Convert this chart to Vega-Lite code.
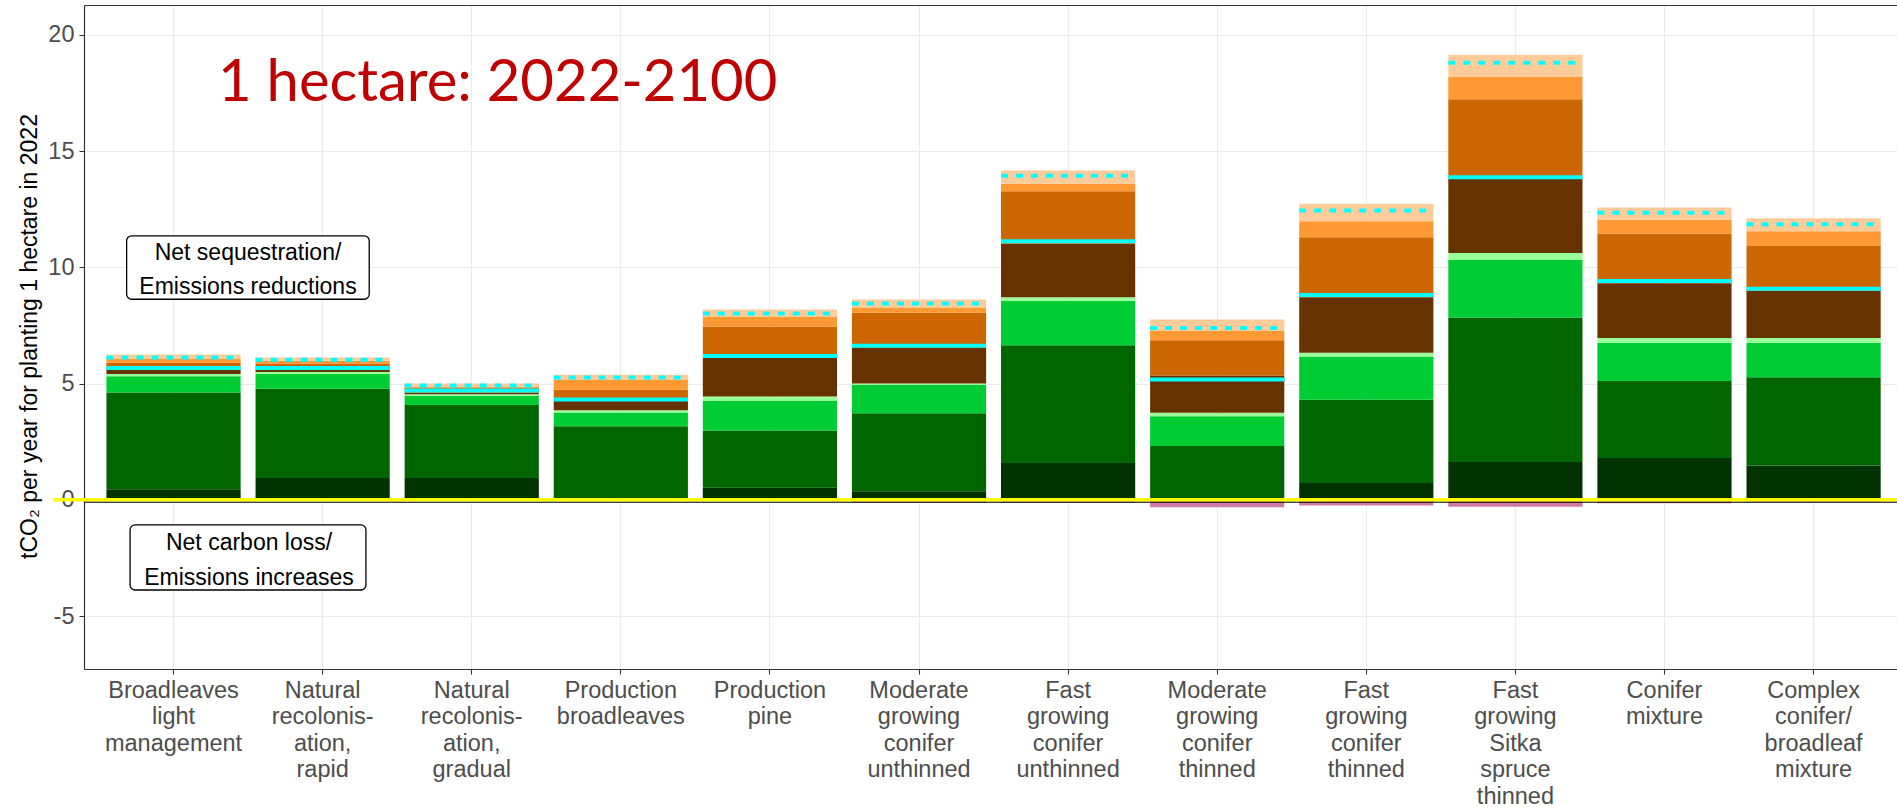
{
  "$schema": "https://vega.github.io/schema/vega-lite/v6.json",
  "width": 1813,
  "height": 664,
  "autosize": "none",
  "padding": {"left": 84, "top": 5, "right": 0, "bottom": 139},
  "background": "white",
  "config": {
    "view": {"stroke": null},
    "axis": {"labelFont": "Liberation Sans", "titleFont": "Liberation Sans"},
    "text": {"font": "Liberation Sans"}
  },
  "datasets": {
    "bars": [
      {"cat": "Broadleaves\nlight\nmanagement", "soil": 0.45, "trees": 4.17, "deadwood": 0.70, "litter": 0.09, "hwp": 0.17, "materialSub": 0.32, "fuelSub": 0.18, "other": 0.17, "emissions": 0, "netForest": 5.67, "netTotal": 6.12},
      {"cat": "Natural\nrecolonis-\nation,\nrapid", "soil": 0.94, "trees": 3.84, "deadwood": 0.63, "litter": 0.09, "hwp": 0.08, "materialSub": 0.28, "fuelSub": 0.12, "other": 0.14, "emissions": 0, "netForest": 5.67, "netTotal": 6.03},
      {"cat": "Natural\nrecolonis-\nation,\ngradual", "soil": 0.94, "trees": 3.14, "deadwood": 0.40, "litter": 0.06, "hwp": 0.08, "materialSub": 0.21, "fuelSub": 0.05, "other": 0.12, "emissions": 0, "netForest": 4.70, "netTotal": 4.92},
      {"cat": "Production\nbroadleaves", "soil": 0, "trees": 3.17, "deadwood": 0.59, "litter": 0.09, "hwp": 0.40, "materialSub": 0.49, "fuelSub": 0.44, "other": 0.20, "emissions": 0, "netForest": 4.32, "netTotal": 5.26},
      {"cat": "Production\npine", "soil": 0.52, "trees": 2.46, "deadwood": 1.27, "litter": 0.20, "hwp": 1.67, "materialSub": 1.34, "fuelSub": 0.43, "other": 0.30, "emissions": 0, "netForest": 6.19, "netTotal": 8.02},
      {"cat": "Moderate\ngrowing\nconifer\nunthinned", "soil": 0.37, "trees": 3.35, "deadwood": 1.23, "litter": 0.05, "hwp": 1.53, "materialSub": 1.52, "fuelSub": 0.22, "other": 0.35, "emissions": -0.12, "netForest": 6.63, "netTotal": 8.45},
      {"cat": "Fast\ngrowing\nconifer\nunthinned", "soil": 1.58, "trees": 5.07, "deadwood": 1.92, "litter": 0.15, "hwp": 2.30, "materialSub": 2.26, "fuelSub": 0.32, "other": 0.57, "emissions": -0.12, "netForest": 11.12, "netTotal": 13.94},
      {"cat": "Moderate\ngrowing\nconifer\nthinned", "soil": 0, "trees": 2.31, "deadwood": 1.29, "litter": 0.15, "hwp": 1.60, "materialSub": 1.51, "fuelSub": 0.43, "other": 0.47, "emissions": -0.32, "netForest": 5.18, "netTotal": 7.39},
      {"cat": "Fast\ngrowing\nconifer\nthinned", "soil": 0.72, "trees": 3.59, "deadwood": 1.86, "litter": 0.16, "hwp": 2.39, "materialSub": 2.58, "fuelSub": 0.69, "other": 0.75, "emissions": -0.25, "netForest": 8.81, "netTotal": 12.45},
      {"cat": "Fast\ngrowing\nSitka\nspruce\nthinned", "soil": 1.63, "trees": 6.21, "deadwood": 2.49, "litter": 0.29, "hwp": 3.18, "materialSub": 3.43, "fuelSub": 0.96, "other": 0.96, "emissions": -0.30, "netForest": 13.88, "netTotal": 18.80},
      {"cat": "Conifer\nmixture", "soil": 1.80, "trees": 3.31, "deadwood": 1.65, "litter": 0.20, "hwp": 2.36, "materialSub": 2.14, "fuelSub": 0.59, "other": 0.53, "emissions": -0.15, "netForest": 9.41, "netTotal": 12.35},
      {"cat": "Complex\nconifer/\nbroadleaf\nmixture", "soil": 1.48, "trees": 3.79, "deadwood": 1.49, "litter": 0.20, "hwp": 2.04, "materialSub": 1.92, "fuelSub": 0.64, "other": 0.55, "emissions": -0.10, "netForest": 9.08, "netTotal": 11.86}
    ]
  },
  "layer": [
    {
      "data": {"name": "bars"},
      "layer": [
        {
          "transform": [
            {"fold": ["soil", "trees", "deadwood", "litter", "hwp", "materialSub", "fuelSub", "other"], "as": ["component", "value"]},
            {"calculate": "indexof(['soil','trees','deadwood','litter','hwp','materialSub','fuelSub','other'], datum.component)", "as": "ord"}
          ],
          "mark": {"type": "bar"},
          "encoding": {
            "x": {
              "field": "cat", "type": "nominal", "sort": null,
              "scale": {"paddingInner": 0.1, "paddingOuter": 0.13, "align": 0.579},
              "axis": {
                "title": null, "labelAngle": 0, "labelExpr": "split(datum.label, '\\n')",
                "labelFontSize": 23.5, "labelColor": "#4D4D4D", "labelLineHeight": 26.6,
                "labelPadding": 4, "labelBaseline": "top", "labelOverlap": false, "labelLimit": 400,
                "tickSize": 5, "tickColor": "#333333", "tickWidth": 1.1,
                "domainColor": "#333333", "domainWidth": 1.2,
                "grid": true, "gridColor": "#EBEBEB", "gridWidth": 1.1, "bandPosition": 0.5
              }
            },
            "y": {
              "field": "value", "type": "quantitative", "stack": "zero",
              "title": "tCO₂ per year for planting 1 hectare in 2022",
              "scale": {"domain": [-7.28, 21.29], "nice": false, "zero": false},
              "axis": {
                "values": [-5, 0, 5, 10, 15, 20], "labelExpr": "'' + datum.value",
                "labelFontSize": 23.5, "labelColor": "#4D4D4D", "labelPadding": 5,
                "tickSize": 5, "tickColor": "#333333", "tickWidth": 1.1,
                "domainColor": "#333333", "domainWidth": 1.2,
                "grid": true, "gridColor": "#EBEBEB", "gridWidth": 1.1,
                "titleFontSize": 23, "titleFontWeight": "normal", "titleColor": "#000000",
                "titleAngle": -90, "titleAlign": "center", "titleBaseline": "middle",
                "titleX": -55, "titleY": 331
              }
            },
            "color": {
              "field": "component", "type": "nominal", "legend": null,
              "scale": {
                "domain": ["soil", "trees", "deadwood", "litter", "hwp", "materialSub", "fuelSub", "other"],
                "range": ["#003300", "#006600", "#00CC33", "#99FF99", "#663300", "#CC6600", "#FF9933", "#FFCC99"]
              }
            },
            "order": {"field": "ord", "type": "quantitative", "sort": "ascending"}
          }
        },
        {
          "mark": {"type": "bar", "color": "#D07AA8"},
          "encoding": {
            "x": {"field": "cat", "type": "nominal", "sort": null},
            "y": {"field": "emissions", "type": "quantitative", "title": "tCO₂ per year for planting 1 hectare in 2022"}
          }
        },
        {
          "mark": {"type": "rule", "color": "#00FFFF", "strokeWidth": 4},
          "encoding": {
            "x": {"field": "cat", "type": "nominal", "sort": null, "bandPosition": 0},
            "x2": {"field": "cat", "bandPosition": 1},
            "y": {"field": "netForest", "type": "quantitative", "title": "tCO₂ per year for planting 1 hectare in 2022"}
          }
        },
        {
          "mark": {"type": "rule", "color": "#00FFFF", "strokeWidth": 4, "strokeDash": [7, 8]},
          "encoding": {
            "x": {"field": "cat", "type": "nominal", "sort": null, "bandPosition": 0},
            "x2": {"field": "cat", "bandPosition": 1},
            "y": {"field": "netTotal", "type": "quantitative", "title": "tCO₂ per year for planting 1 hectare in 2022"}
          }
        }
      ]
    },
    {
      "data": {"values": [{}]},
      "layer": [
        {
          "mark": {"type": "rule", "color": "#000000", "strokeWidth": 1.3, "yOffset": 2.3},
          "encoding": {
            "x": {"datum": 0.4, "type": "quantitative", "scale": {"domain": [0.4, 12.56], "nice": false, "zero": false},
                  "axis": {"orient": "top", "title": null, "labels": false, "ticks": false, "grid": false, "domain": true, "domainColor": "#333333", "domainWidth": 1.2}},
            "x2": {"datum": 12.56},
            "y": {"datum": 0, "type": "quantitative"}
          }
        },
        {
          "mark": {"type": "rule", "color": "#FFFF00", "strokeWidth": 3.5},
          "encoding": {
            "x": {"datum": 0.192, "type": "quantitative"},
            "x2": {"datum": 12.56},
            "y": {"datum": 0, "type": "quantitative"}
          }
        },
        {
          "mark": {"type": "rect", "fill": "#FFFFFF", "stroke": "#000000", "strokeWidth": 1.3, "cornerRadius": 5},
          "encoding": {
            "x": {"datum": 0.686, "type": "quantitative"},
            "x2": {"datum": 2.313},
            "y": {"datum": 11.36, "type": "quantitative"},
            "y2": {"datum": 8.63}
          }
        },
        {
          "mark": {"type": "rect", "fill": "#FFFFFF", "stroke": "#000000", "strokeWidth": 1.3, "cornerRadius": 5},
          "encoding": {
            "x": {"datum": 0.709, "type": "quantitative"},
            "x2": {"datum": 2.291},
            "y": {"datum": -1.08, "type": "quantitative"},
            "y2": {"datum": -3.88}
          }
        },
        {
          "mark": {"type": "text", "align": "center", "baseline": "alphabetic", "fontSize": 23, "lineHeight": 34, "color": "#000000"},
          "encoding": {
            "x": {"datum": 1.5, "type": "quantitative"},
            "y": {"datum": 10.32, "type": "quantitative"},
            "text": {"value": ["Net sequestration/", "Emissions reductions"]}
          }
        },
        {
          "mark": {"type": "text", "align": "center", "baseline": "alphabetic", "fontSize": 23, "lineHeight": 35, "color": "#000000"},
          "encoding": {
            "x": {"datum": 1.507, "type": "quantitative"},
            "y": {"datum": -2.16, "type": "quantitative"},
            "text": {"value": ["Net carbon loss/", "Emissions increases"]}
          }
        },
        {
          "mark": {"type": "text", "align": "left", "baseline": "alphabetic", "font": "Lato", "fontSize": 58, "color": "#C00000"},
          "encoding": {
            "x": {"datum": 1.299, "type": "quantitative"},
            "y": {"datum": 17.16, "type": "quantitative"},
            "text": {"value": "1 hectare: 2022-2100"}
          }
        }
      ]
    }
  ],
  "resolve": {"scale": {"x": "independent"}, "axis": {"x": "independent"}}
}
